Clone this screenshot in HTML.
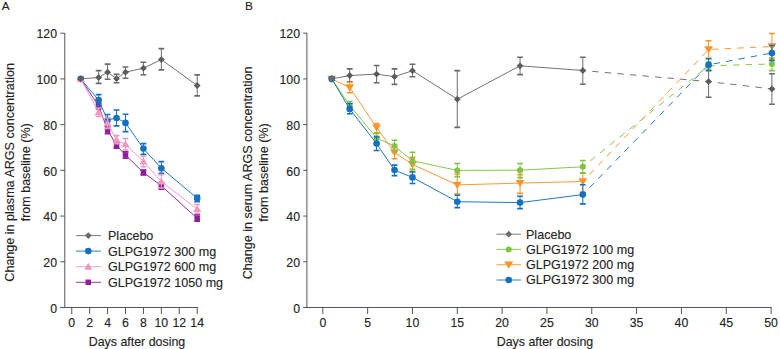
<!DOCTYPE html>
<html><head><meta charset="utf-8"><style>
html,body{margin:0;padding:0;background:#fff;width:780px;height:349px;overflow:hidden}
svg{display:block;font-family:"Liberation Sans", sans-serif}
text{stroke:#222;stroke-width:0.12px}
</style></head><body>
<svg width="780" height="349" viewBox="0 0 780 349">
<rect width="780" height="349" fill="#fff"/>
<text x="1.8" y="9.6" font-size="11.8" fill="#222222">A</text>
<text x="245" y="9.6" font-size="11.8" fill="#222222">B</text>
<path d="M64.8 33V307.8M60.3 307.5H197.8" stroke="#555555" stroke-width="1" fill="none"/>
<path d="M60.3 307.50H64.8" stroke="#555555" stroke-width="1"/>
<text x="57" y="312.70" font-size="12.3" text-anchor="end" fill="#222222">0</text>
<path d="M60.3 261.78H64.8" stroke="#555555" stroke-width="1"/>
<text x="57" y="266.98" font-size="12.3" text-anchor="end" fill="#222222">20</text>
<path d="M60.3 216.07H64.8" stroke="#555555" stroke-width="1"/>
<text x="57" y="221.27" font-size="12.3" text-anchor="end" fill="#222222">40</text>
<path d="M60.3 170.35H64.8" stroke="#555555" stroke-width="1"/>
<text x="57" y="175.55" font-size="12.3" text-anchor="end" fill="#222222">60</text>
<path d="M60.3 124.64H64.8" stroke="#555555" stroke-width="1"/>
<text x="57" y="129.84" font-size="12.3" text-anchor="end" fill="#222222">80</text>
<path d="M60.3 78.92H64.8" stroke="#555555" stroke-width="1"/>
<text x="57" y="84.12" font-size="12.3" text-anchor="end" fill="#222222">100</text>
<path d="M60.3 33.20H64.8" stroke="#555555" stroke-width="1"/>
<text x="57" y="38.40" font-size="12.3" text-anchor="end" fill="#222222">120</text>
<path d="M71.75 307.5V314" stroke="#555555" stroke-width="1"/>
<text x="71.75" y="327.2" font-size="12.3" text-anchor="middle" fill="#222222">0</text>
<path d="M89.67 307.5V314" stroke="#555555" stroke-width="1"/>
<text x="89.67" y="327.2" font-size="12.3" text-anchor="middle" fill="#222222">2</text>
<path d="M107.59 307.5V314" stroke="#555555" stroke-width="1"/>
<text x="107.59" y="327.2" font-size="12.3" text-anchor="middle" fill="#222222">4</text>
<path d="M125.51 307.5V314" stroke="#555555" stroke-width="1"/>
<text x="125.51" y="327.2" font-size="12.3" text-anchor="middle" fill="#222222">6</text>
<path d="M143.43 307.5V314" stroke="#555555" stroke-width="1"/>
<text x="143.43" y="327.2" font-size="12.3" text-anchor="middle" fill="#222222">8</text>
<path d="M161.35 307.5V314" stroke="#555555" stroke-width="1"/>
<text x="161.35" y="327.2" font-size="12.3" text-anchor="middle" fill="#222222">10</text>
<path d="M179.27 307.5V314" stroke="#555555" stroke-width="1"/>
<text x="179.27" y="327.2" font-size="12.3" text-anchor="middle" fill="#222222">12</text>
<path d="M197.19 307.5V314" stroke="#555555" stroke-width="1"/>
<text x="197.19" y="327.2" font-size="12.3" text-anchor="middle" fill="#222222">14</text>
<text x="137" y="346" font-size="12.4" text-anchor="middle" fill="#222222">Days after dosing</text>
<text transform="translate(14.4 172.4) rotate(-90)" font-size="12.57" text-anchor="middle" fill="#222222">Change in plasma ARGS concentration</text>
<text transform="translate(29.7 172.3) rotate(-90)" font-size="12.5" text-anchor="middle" fill="#222222">from baseline (%)</text>
<path d="M306.9 32.8V307.8M303.2 307.5H771.6" stroke="#555555" stroke-width="1" fill="none"/>
<path d="M303.2 307.50H306.9" stroke="#555555" stroke-width="1"/>
<text x="300" y="312.70" font-size="12.3" text-anchor="end" fill="#222222">0</text>
<path d="M303.2 261.78H306.9" stroke="#555555" stroke-width="1"/>
<text x="300" y="266.98" font-size="12.3" text-anchor="end" fill="#222222">20</text>
<path d="M303.2 216.07H306.9" stroke="#555555" stroke-width="1"/>
<text x="300" y="221.27" font-size="12.3" text-anchor="end" fill="#222222">40</text>
<path d="M303.2 170.35H306.9" stroke="#555555" stroke-width="1"/>
<text x="300" y="175.55" font-size="12.3" text-anchor="end" fill="#222222">60</text>
<path d="M303.2 124.64H306.9" stroke="#555555" stroke-width="1"/>
<text x="300" y="129.84" font-size="12.3" text-anchor="end" fill="#222222">80</text>
<path d="M303.2 78.92H306.9" stroke="#555555" stroke-width="1"/>
<text x="300" y="84.12" font-size="12.3" text-anchor="end" fill="#222222">100</text>
<path d="M303.2 33.20H306.9" stroke="#555555" stroke-width="1"/>
<text x="300" y="38.40" font-size="12.3" text-anchor="end" fill="#222222">120</text>
<path d="M322.80 307.5V314" stroke="#555555" stroke-width="1"/>
<text x="322.80" y="327.2" font-size="12.3" text-anchor="middle" fill="#222222">0</text>
<path d="M367.63 307.5V314" stroke="#555555" stroke-width="1"/>
<text x="367.63" y="327.2" font-size="12.3" text-anchor="middle" fill="#222222">5</text>
<path d="M412.46 307.5V314" stroke="#555555" stroke-width="1"/>
<text x="412.46" y="327.2" font-size="12.3" text-anchor="middle" fill="#222222">10</text>
<path d="M457.29 307.5V314" stroke="#555555" stroke-width="1"/>
<text x="457.29" y="327.2" font-size="12.3" text-anchor="middle" fill="#222222">15</text>
<path d="M502.12 307.5V314" stroke="#555555" stroke-width="1"/>
<text x="502.12" y="327.2" font-size="12.3" text-anchor="middle" fill="#222222">20</text>
<path d="M546.95 307.5V314" stroke="#555555" stroke-width="1"/>
<text x="546.95" y="327.2" font-size="12.3" text-anchor="middle" fill="#222222">25</text>
<path d="M591.78 307.5V314" stroke="#555555" stroke-width="1"/>
<text x="591.78" y="327.2" font-size="12.3" text-anchor="middle" fill="#222222">30</text>
<path d="M636.61 307.5V314" stroke="#555555" stroke-width="1"/>
<text x="636.61" y="327.2" font-size="12.3" text-anchor="middle" fill="#222222">35</text>
<path d="M681.44 307.5V314" stroke="#555555" stroke-width="1"/>
<text x="681.44" y="327.2" font-size="12.3" text-anchor="middle" fill="#222222">40</text>
<path d="M726.27 307.5V314" stroke="#555555" stroke-width="1"/>
<text x="726.27" y="327.2" font-size="12.3" text-anchor="middle" fill="#222222">45</text>
<path d="M771.10 307.5V314" stroke="#555555" stroke-width="1"/>
<text x="771.10" y="327.2" font-size="12.3" text-anchor="middle" fill="#222222">50</text>
<text x="545" y="346" font-size="12.4" text-anchor="middle" fill="#222222">Days after dosing</text>
<text transform="translate(252.2 172.95) rotate(-90)" font-size="12.55" text-anchor="middle" fill="#222222">Change in serum ARGS concentration</text>
<text transform="translate(267.6 172.5) rotate(-90)" font-size="12.55" text-anchor="middle" fill="#222222">from baseline (%)</text>
<path d="M80.71 78.90 L98.63 106.00 L107.59 130.10 L116.55 145.40 L125.51 155.00 L143.43 172.50 L161.35 185.80 L197.19 218.30" fill="none" stroke="#8e1f9b" stroke-width="0.95"/>
<path d="M98.63 103.00V109.00" stroke="#8e1f9b" stroke-width="1.0"/>
<path d="M95.73 103.00H101.53M95.73 109.00H101.53" stroke="#8e1f9b" stroke-width="1.6"/>
<path d="M107.59 126.40V133.80" stroke="#8e1f9b" stroke-width="1.0"/>
<path d="M104.69 126.40H110.49M104.69 133.80H110.49" stroke="#8e1f9b" stroke-width="1.6"/>
<path d="M116.55 142.50V148.30" stroke="#8e1f9b" stroke-width="1.0"/>
<path d="M113.65 142.50H119.45M113.65 148.30H119.45" stroke="#8e1f9b" stroke-width="1.6"/>
<path d="M125.51 151.80V158.30" stroke="#8e1f9b" stroke-width="1.0"/>
<path d="M122.61 151.80H128.41M122.61 158.30H128.41" stroke="#8e1f9b" stroke-width="1.6"/>
<path d="M143.43 170.00V175.00" stroke="#8e1f9b" stroke-width="1.0"/>
<path d="M140.53 170.00H146.33M140.53 175.00H146.33" stroke="#8e1f9b" stroke-width="1.6"/>
<path d="M161.35 182.60V189.20" stroke="#8e1f9b" stroke-width="1.0"/>
<path d="M158.45 182.60H164.25M158.45 189.20H164.25" stroke="#8e1f9b" stroke-width="1.6"/>
<path d="M197.19 214.60V221.10" stroke="#8e1f9b" stroke-width="1.0"/>
<path d="M194.29 214.60H200.09M194.29 221.10H200.09" stroke="#8e1f9b" stroke-width="1.6"/>
<rect x="77.96" y="76.15" width="5.50" height="5.50" fill="#8e1f9b"/>
<rect x="95.88" y="103.25" width="5.50" height="5.50" fill="#8e1f9b"/>
<rect x="104.84" y="127.35" width="5.50" height="5.50" fill="#8e1f9b"/>
<rect x="113.80" y="142.65" width="5.50" height="5.50" fill="#8e1f9b"/>
<rect x="122.76" y="152.25" width="5.50" height="5.50" fill="#8e1f9b"/>
<rect x="140.68" y="169.75" width="5.50" height="5.50" fill="#8e1f9b"/>
<rect x="158.60" y="183.05" width="5.50" height="5.50" fill="#8e1f9b"/>
<rect x="194.44" y="215.55" width="5.50" height="5.50" fill="#8e1f9b"/>
<path d="M80.71 78.90 L98.63 100.10 L107.59 120.00 L116.55 118.00 L125.51 122.90 L143.43 148.60 L161.35 168.20 L197.19 198.20" fill="none" stroke="#1570c0" stroke-width="0.95"/>
<path d="M98.63 94.60V105.60" stroke="#1570c0" stroke-width="1.0"/>
<path d="M95.73 94.60H101.53M95.73 105.60H101.53" stroke="#1570c0" stroke-width="1.6"/>
<path d="M107.59 114.50V125.50" stroke="#1570c0" stroke-width="1.0"/>
<path d="M104.69 114.50H110.49M104.69 125.50H110.49" stroke="#1570c0" stroke-width="1.6"/>
<path d="M116.55 110.00V125.90" stroke="#1570c0" stroke-width="1.0"/>
<path d="M113.65 110.00H119.45M113.65 125.90H119.45" stroke="#1570c0" stroke-width="1.6"/>
<path d="M125.51 114.30V131.60" stroke="#1570c0" stroke-width="1.0"/>
<path d="M122.61 114.30H128.41M122.61 131.60H128.41" stroke="#1570c0" stroke-width="1.6"/>
<path d="M143.43 143.60V154.40" stroke="#1570c0" stroke-width="1.0"/>
<path d="M140.53 143.60H146.33M140.53 154.40H146.33" stroke="#1570c0" stroke-width="1.6"/>
<path d="M161.35 161.60V173.30" stroke="#1570c0" stroke-width="1.0"/>
<path d="M158.45 161.60H164.25M158.45 173.30H164.25" stroke="#1570c0" stroke-width="1.6"/>
<path d="M197.19 195.30V201.60" stroke="#1570c0" stroke-width="1.0"/>
<path d="M194.29 195.30H200.09M194.29 201.60H200.09" stroke="#1570c0" stroke-width="1.6"/>
<circle cx="80.71" cy="78.90" r="3.30" fill="#1570c0"/>
<circle cx="98.63" cy="100.10" r="3.30" fill="#1570c0"/>
<circle cx="107.59" cy="120.00" r="3.30" fill="#1570c0"/>
<circle cx="116.55" cy="118.00" r="3.30" fill="#1570c0"/>
<circle cx="125.51" cy="122.90" r="3.30" fill="#1570c0"/>
<circle cx="143.43" cy="148.60" r="3.30" fill="#1570c0"/>
<circle cx="161.35" cy="168.20" r="3.30" fill="#1570c0"/>
<circle cx="197.19" cy="198.20" r="3.30" fill="#1570c0"/>
<path d="M80.71 78.90 L98.63 112.30 L107.59 123.20 L116.55 139.80 L125.51 144.30 L143.43 161.40 L161.35 181.40 L197.19 209.10" fill="none" stroke="#f396bf" stroke-width="0.95"/>
<path d="M98.63 108.00V116.50" stroke="#f396bf" stroke-width="1.0"/>
<path d="M95.73 108.00H101.53M95.73 116.50H101.53" stroke="#f396bf" stroke-width="1.6"/>
<path d="M107.59 118.00V128.40" stroke="#f396bf" stroke-width="1.0"/>
<path d="M104.69 118.00H110.49M104.69 128.40H110.49" stroke="#f396bf" stroke-width="1.6"/>
<path d="M116.55 135.60V143.60" stroke="#f396bf" stroke-width="1.0"/>
<path d="M113.65 135.60H119.45M113.65 143.60H119.45" stroke="#f396bf" stroke-width="1.6"/>
<path d="M125.51 138.50V150.00" stroke="#f396bf" stroke-width="1.0"/>
<path d="M122.61 138.50H128.41M122.61 150.00H128.41" stroke="#f396bf" stroke-width="1.6"/>
<path d="M143.43 156.00V166.80" stroke="#f396bf" stroke-width="1.0"/>
<path d="M140.53 156.00H146.33M140.53 166.80H146.33" stroke="#f396bf" stroke-width="1.6"/>
<path d="M161.35 174.60V188.00" stroke="#f396bf" stroke-width="1.0"/>
<path d="M158.45 174.60H164.25M158.45 188.00H164.25" stroke="#f396bf" stroke-width="1.6"/>
<path d="M197.19 204.50V213.50" stroke="#f396bf" stroke-width="1.0"/>
<path d="M194.29 204.50H200.09M194.29 213.50H200.09" stroke="#f396bf" stroke-width="1.6"/>
<path d="M80.71 74.90L84.71 81.90L76.71 81.90Z" fill="#f396bf"/>
<path d="M98.63 108.30L102.63 115.30L94.63 115.30Z" fill="#f396bf"/>
<path d="M107.59 119.20L111.59 126.20L103.59 126.20Z" fill="#f396bf"/>
<path d="M116.55 135.80L120.55 142.80L112.55 142.80Z" fill="#f396bf"/>
<path d="M125.51 140.30L129.51 147.30L121.51 147.30Z" fill="#f396bf"/>
<path d="M143.43 157.40L147.43 164.40L139.43 164.40Z" fill="#f396bf"/>
<path d="M161.35 177.40L165.35 184.40L157.35 184.40Z" fill="#f396bf"/>
<path d="M197.19 205.10L201.19 212.10L193.19 212.10Z" fill="#f396bf"/>
<path d="M80.71 78.90 L98.63 77.50 L107.59 72.20 L116.55 78.70 L125.51 72.20 L143.43 68.20 L161.35 59.60 L197.19 85.50" fill="none" stroke="#6b6b6b" stroke-width="0.95"/>
<path d="M98.63 70.60V83.40" stroke="#6b6b6b" stroke-width="1.0"/>
<path d="M95.73 70.60H101.53M95.73 83.40H101.53" stroke="#6b6b6b" stroke-width="1.6"/>
<path d="M107.59 64.10V79.20" stroke="#6b6b6b" stroke-width="1.0"/>
<path d="M104.69 64.10H110.49M104.69 79.20H110.49" stroke="#6b6b6b" stroke-width="1.6"/>
<path d="M116.55 74.40V82.70" stroke="#6b6b6b" stroke-width="1.0"/>
<path d="M113.65 74.40H119.45M113.65 82.70H119.45" stroke="#6b6b6b" stroke-width="1.6"/>
<path d="M125.51 67.00V78.20" stroke="#6b6b6b" stroke-width="1.0"/>
<path d="M122.61 67.00H128.41M122.61 78.20H128.41" stroke="#6b6b6b" stroke-width="1.6"/>
<path d="M143.43 62.20V74.70" stroke="#6b6b6b" stroke-width="1.0"/>
<path d="M140.53 62.20H146.33M140.53 74.70H146.33" stroke="#6b6b6b" stroke-width="1.6"/>
<path d="M161.35 48.60V69.90" stroke="#6b6b6b" stroke-width="1.0"/>
<path d="M158.45 48.60H164.25M158.45 69.90H164.25" stroke="#6b6b6b" stroke-width="1.6"/>
<path d="M197.19 74.90V95.90" stroke="#6b6b6b" stroke-width="1.0"/>
<path d="M194.29 74.90H200.09M194.29 95.90H200.09" stroke="#6b6b6b" stroke-width="1.6"/>
<path d="M80.71 75.50L84.11 78.90L80.71 82.30L77.31 78.90Z" fill="#5c5c5c"/>
<path d="M98.63 74.10L102.03 77.50L98.63 80.90L95.23 77.50Z" fill="#5c5c5c"/>
<path d="M107.59 68.80L110.99 72.20L107.59 75.60L104.19 72.20Z" fill="#5c5c5c"/>
<path d="M116.55 75.30L119.95 78.70L116.55 82.10L113.15 78.70Z" fill="#5c5c5c"/>
<path d="M125.51 68.80L128.91 72.20L125.51 75.60L122.11 72.20Z" fill="#5c5c5c"/>
<path d="M143.43 64.80L146.83 68.20L143.43 71.60L140.03 68.20Z" fill="#5c5c5c"/>
<path d="M161.35 56.20L164.75 59.60L161.35 63.00L157.95 59.60Z" fill="#5c5c5c"/>
<path d="M197.19 82.10L200.59 85.50L197.19 88.90L193.79 85.50Z" fill="#5c5c5c"/>
<path d="M331.77 78.90 L349.70 75.50 L376.60 74.10 L394.53 76.70 L412.46 70.70 L457.29 99.20 L520.05 65.80 L582.81 70.50" fill="none" stroke="#6b6b6b" stroke-width="0.95"/>
<path d="M582.81 70.50 L708.60 81.60 L771.90 88.90" fill="none" stroke="#6b6b6b" stroke-width="0.95" stroke-dasharray="6.4 6.2" stroke-dashoffset="3.1"/>
<path d="M349.70 68.90V81.80" stroke="#6b6b6b" stroke-width="1.0"/>
<path d="M346.80 68.90H352.60M346.80 81.80H352.60" stroke="#6b6b6b" stroke-width="1.6"/>
<path d="M376.60 65.50V82.70" stroke="#6b6b6b" stroke-width="1.0"/>
<path d="M373.70 65.50H379.50M373.70 82.70H379.50" stroke="#6b6b6b" stroke-width="1.6"/>
<path d="M394.53 68.90V84.40" stroke="#6b6b6b" stroke-width="1.0"/>
<path d="M391.63 68.90H397.43M391.63 84.40H397.43" stroke="#6b6b6b" stroke-width="1.6"/>
<path d="M412.46 64.30V76.70" stroke="#6b6b6b" stroke-width="1.0"/>
<path d="M409.56 64.30H415.36M409.56 76.70H415.36" stroke="#6b6b6b" stroke-width="1.6"/>
<path d="M457.29 70.60V127.40" stroke="#6b6b6b" stroke-width="1.0"/>
<path d="M454.39 70.60H460.19M454.39 127.40H460.19" stroke="#6b6b6b" stroke-width="1.6"/>
<path d="M520.05 57.20V74.60" stroke="#6b6b6b" stroke-width="1.0"/>
<path d="M517.15 57.20H522.95M517.15 74.60H522.95" stroke="#6b6b6b" stroke-width="1.6"/>
<path d="M582.81 57.20V84.20" stroke="#6b6b6b" stroke-width="1.0"/>
<path d="M579.91 57.20H585.71M579.91 84.20H585.71" stroke="#6b6b6b" stroke-width="1.6"/>
<path d="M708.60 66.00V97.20" stroke="#6b6b6b" stroke-width="1.0"/>
<path d="M705.70 66.00H711.50M705.70 97.20H711.50" stroke="#6b6b6b" stroke-width="1.6"/>
<path d="M771.90 73.80V104.30" stroke="#6b6b6b" stroke-width="1.0"/>
<path d="M769.00 73.80H774.80M769.00 104.30H774.80" stroke="#6b6b6b" stroke-width="1.6"/>
<path d="M331.77 75.50L335.17 78.90L331.77 82.30L328.37 78.90Z" fill="#5c5c5c"/>
<path d="M349.70 72.10L353.10 75.50L349.70 78.90L346.30 75.50Z" fill="#5c5c5c"/>
<path d="M376.60 70.70L380.00 74.10L376.60 77.50L373.20 74.10Z" fill="#5c5c5c"/>
<path d="M394.53 73.30L397.93 76.70L394.53 80.10L391.13 76.70Z" fill="#5c5c5c"/>
<path d="M412.46 67.30L415.86 70.70L412.46 74.10L409.06 70.70Z" fill="#5c5c5c"/>
<path d="M457.29 95.80L460.69 99.20L457.29 102.60L453.89 99.20Z" fill="#5c5c5c"/>
<path d="M520.05 62.40L523.45 65.80L520.05 69.20L516.65 65.80Z" fill="#5c5c5c"/>
<path d="M582.81 67.10L586.21 70.50L582.81 73.90L579.41 70.50Z" fill="#5c5c5c"/>
<path d="M708.60 78.20L712.00 81.60L708.60 85.00L705.20 81.60Z" fill="#5c5c5c"/>
<path d="M771.90 85.50L775.30 88.90L771.90 92.30L768.50 88.90Z" fill="#5c5c5c"/>
<path d="M331.77 78.90 L349.70 87.50 L376.60 127.60 L394.53 152.50 L412.46 164.40 L457.29 184.90 L520.05 183.10 L582.81 181.50" fill="none" stroke="#f7952a" stroke-width="0.95"/>
<path d="M582.81 181.50 L708.60 49.50 L771.90 46.50" fill="none" stroke="#f7952a" stroke-width="0.95" stroke-dasharray="6.4 6.2" stroke-dashoffset="3.1"/>
<path d="M349.70 82.30V92.70" stroke="#f7952a" stroke-width="1.0"/>
<path d="M346.80 82.30H352.60M346.80 92.70H352.60" stroke="#f7952a" stroke-width="1.6"/>
<path d="M376.60 123.60V132.80" stroke="#f7952a" stroke-width="1.0"/>
<path d="M373.70 123.60H379.50M373.70 132.80H379.50" stroke="#f7952a" stroke-width="1.6"/>
<path d="M394.53 146.30V158.80" stroke="#f7952a" stroke-width="1.0"/>
<path d="M391.63 146.30H397.43M391.63 158.80H397.43" stroke="#f7952a" stroke-width="1.6"/>
<path d="M412.46 157.40V171.40" stroke="#f7952a" stroke-width="1.0"/>
<path d="M409.56 157.40H415.36M409.56 171.40H415.36" stroke="#f7952a" stroke-width="1.6"/>
<path d="M457.29 174.00V194.00" stroke="#f7952a" stroke-width="1.0"/>
<path d="M454.39 174.00H460.19M454.39 194.00H460.19" stroke="#f7952a" stroke-width="1.6"/>
<path d="M520.05 174.60V193.40" stroke="#f7952a" stroke-width="1.0"/>
<path d="M517.15 174.60H522.95M517.15 193.40H522.95" stroke="#f7952a" stroke-width="1.6"/>
<path d="M582.81 172.80V192.30" stroke="#f7952a" stroke-width="1.0"/>
<path d="M579.91 172.80H585.71M579.91 192.30H585.71" stroke="#f7952a" stroke-width="1.6"/>
<path d="M708.60 40.80V58.20" stroke="#f7952a" stroke-width="1.0"/>
<path d="M705.70 40.80H711.50M705.70 58.20H711.50" stroke="#f7952a" stroke-width="1.6"/>
<path d="M771.90 33.50V59.50" stroke="#f7952a" stroke-width="1.0"/>
<path d="M769.00 33.50H774.80M769.00 59.50H774.80" stroke="#f7952a" stroke-width="1.6"/>
<path d="M331.77 82.90L336.25 75.70L327.29 75.70Z" fill="#f7952a"/>
<path d="M349.70 91.50L354.18 84.30L345.22 84.30Z" fill="#f7952a"/>
<path d="M376.60 131.60L381.08 124.40L372.12 124.40Z" fill="#f7952a"/>
<path d="M394.53 156.50L399.01 149.30L390.05 149.30Z" fill="#f7952a"/>
<path d="M412.46 168.40L416.94 161.20L407.98 161.20Z" fill="#f7952a"/>
<path d="M457.29 188.90L461.77 181.70L452.81 181.70Z" fill="#f7952a"/>
<path d="M520.05 187.10L524.53 179.90L515.57 179.90Z" fill="#f7952a"/>
<path d="M582.81 185.50L587.29 178.30L578.33 178.30Z" fill="#f7952a"/>
<path d="M708.60 53.50L713.08 46.30L704.12 46.30Z" fill="#f7952a"/>
<path d="M771.90 50.50L776.38 43.30L767.42 43.30Z" fill="#f7952a"/>
<path d="M331.77 78.90 L349.70 105.50 L376.60 138.00 L394.53 146.00 L412.46 160.80 L457.29 170.40 L520.05 170.20 L582.81 166.80" fill="none" stroke="#80c244" stroke-width="0.95"/>
<path d="M582.81 166.80 L708.60 65.80 L771.90 64.00" fill="none" stroke="#80c244" stroke-width="0.95" stroke-dasharray="6.4 6.2" stroke-dashoffset="3.1"/>
<path d="M349.70 101.50V109.50" stroke="#80c244" stroke-width="1.0"/>
<path d="M346.80 101.50H352.60M346.80 109.50H352.60" stroke="#80c244" stroke-width="1.6"/>
<path d="M376.60 133.50V142.50" stroke="#80c244" stroke-width="1.0"/>
<path d="M373.70 133.50H379.50M373.70 142.50H379.50" stroke="#80c244" stroke-width="1.6"/>
<path d="M394.53 140.30V151.70" stroke="#80c244" stroke-width="1.0"/>
<path d="M391.63 140.30H397.43M391.63 151.70H397.43" stroke="#80c244" stroke-width="1.6"/>
<path d="M412.46 152.20V169.40" stroke="#80c244" stroke-width="1.0"/>
<path d="M409.56 152.20H415.36M409.56 169.40H415.36" stroke="#80c244" stroke-width="1.6"/>
<path d="M457.29 163.50V176.60" stroke="#80c244" stroke-width="1.0"/>
<path d="M454.39 163.50H460.19M454.39 176.60H460.19" stroke="#80c244" stroke-width="1.6"/>
<path d="M520.05 163.50V177.60" stroke="#80c244" stroke-width="1.0"/>
<path d="M517.15 163.50H522.95M517.15 177.60H522.95" stroke="#80c244" stroke-width="1.6"/>
<path d="M582.81 160.50V173.10" stroke="#80c244" stroke-width="1.0"/>
<path d="M579.91 160.50H585.71M579.91 173.10H585.71" stroke="#80c244" stroke-width="1.6"/>
<path d="M708.60 62.00V69.50" stroke="#80c244" stroke-width="1.0"/>
<path d="M705.70 62.00H711.50M705.70 69.50H711.50" stroke="#80c244" stroke-width="1.6"/>
<path d="M771.90 58.00V70.60" stroke="#80c244" stroke-width="1.0"/>
<path d="M769.00 58.00H774.80M769.00 70.60H774.80" stroke="#80c244" stroke-width="1.6"/>
<circle cx="331.77" cy="78.90" r="3.00" fill="#80c244"/>
<circle cx="349.70" cy="105.50" r="3.00" fill="#80c244"/>
<circle cx="376.60" cy="138.00" r="3.00" fill="#80c244"/>
<circle cx="394.53" cy="146.00" r="3.00" fill="#80c244"/>
<circle cx="412.46" cy="160.80" r="3.00" fill="#80c244"/>
<circle cx="457.29" cy="170.40" r="3.00" fill="#80c244"/>
<circle cx="520.05" cy="170.20" r="3.00" fill="#80c244"/>
<circle cx="582.81" cy="166.80" r="3.00" fill="#80c244"/>
<circle cx="708.60" cy="65.80" r="3.00" fill="#80c244"/>
<circle cx="771.90" cy="64.00" r="3.00" fill="#80c244"/>
<path d="M331.77 78.90 L349.70 108.90 L376.60 143.60 L394.53 170.10 L412.46 177.40 L457.29 201.70 L520.05 202.60 L582.81 194.60" fill="none" stroke="#1570c0" stroke-width="0.95"/>
<path d="M582.81 194.60 L708.60 64.80 L771.90 53.00" fill="none" stroke="#1570c0" stroke-width="0.95" stroke-dasharray="6.4 6.2" stroke-dashoffset="3.1"/>
<path d="M349.70 103.50V113.80" stroke="#1570c0" stroke-width="1.0"/>
<path d="M346.80 103.50H352.60M346.80 113.80H352.60" stroke="#1570c0" stroke-width="1.6"/>
<path d="M376.60 137.00V150.50" stroke="#1570c0" stroke-width="1.0"/>
<path d="M373.70 137.00H379.50M373.70 150.50H379.50" stroke="#1570c0" stroke-width="1.6"/>
<path d="M394.53 165.10V175.60" stroke="#1570c0" stroke-width="1.0"/>
<path d="M391.63 165.10H397.43M391.63 175.60H397.43" stroke="#1570c0" stroke-width="1.6"/>
<path d="M412.46 172.00V183.50" stroke="#1570c0" stroke-width="1.0"/>
<path d="M409.56 172.00H415.36M409.56 183.50H415.36" stroke="#1570c0" stroke-width="1.6"/>
<path d="M457.29 195.20V207.60" stroke="#1570c0" stroke-width="1.0"/>
<path d="M454.39 195.20H460.19M454.39 207.60H460.19" stroke="#1570c0" stroke-width="1.6"/>
<path d="M520.05 196.20V208.60" stroke="#1570c0" stroke-width="1.0"/>
<path d="M517.15 196.20H522.95M517.15 208.60H522.95" stroke="#1570c0" stroke-width="1.6"/>
<path d="M582.81 184.80V203.90" stroke="#1570c0" stroke-width="1.0"/>
<path d="M579.91 184.80H585.71M579.91 203.90H585.71" stroke="#1570c0" stroke-width="1.6"/>
<path d="M708.60 58.70V70.80" stroke="#1570c0" stroke-width="1.0"/>
<path d="M705.70 58.70H711.50M705.70 70.80H711.50" stroke="#1570c0" stroke-width="1.6"/>
<path d="M771.90 45.50V60.50" stroke="#1570c0" stroke-width="1.0"/>
<path d="M769.00 45.50H774.80M769.00 60.50H774.80" stroke="#1570c0" stroke-width="1.6"/>
<circle cx="331.77" cy="78.90" r="3.30" fill="#1570c0"/>
<circle cx="349.70" cy="108.90" r="3.30" fill="#1570c0"/>
<circle cx="376.60" cy="143.60" r="3.30" fill="#1570c0"/>
<circle cx="394.53" cy="170.10" r="3.30" fill="#1570c0"/>
<circle cx="412.46" cy="177.40" r="3.30" fill="#1570c0"/>
<circle cx="457.29" cy="201.70" r="3.30" fill="#1570c0"/>
<circle cx="520.05" cy="202.60" r="3.30" fill="#1570c0"/>
<circle cx="582.81" cy="194.60" r="3.30" fill="#1570c0"/>
<circle cx="708.60" cy="64.80" r="3.30" fill="#1570c0"/>
<circle cx="771.90" cy="53.00" r="3.30" fill="#1570c0"/>
<path d="M331.77 75.50L335.17 78.90L331.77 82.30L328.37 78.90Z" fill="#6b6b6b"/>
<path d="M76 235.6H101" stroke="#6b6b6b" stroke-width="0.9"/>
<path d="M88.30 232.20L91.70 235.60L88.30 239.00L84.90 235.60Z" fill="#6b6b6b"/>
<text x="108" y="240.00" font-size="12.55" fill="#222222">Placebo</text>
<path d="M76 251.1H101" stroke="#1570c0" stroke-width="0.9"/>
<circle cx="88.30" cy="251.10" r="3.30" fill="#1570c0"/>
<text x="108" y="255.50" font-size="12.55" fill="#222222">GLPG1972 300 mg</text>
<path d="M76 266.7H101" stroke="#f396bf" stroke-width="0.9"/>
<path d="M88.30 262.70L92.30 269.70L84.30 269.70Z" fill="#f396bf"/>
<text x="108" y="271.10" font-size="12.55" fill="#222222">GLPG1972 600 mg</text>
<path d="M76 282.3H101" stroke="#8e1f9b" stroke-width="0.9"/>
<rect x="85.55" y="279.55" width="5.50" height="5.50" fill="#8e1f9b"/>
<text x="108" y="286.70" font-size="12.55" fill="#222222">GLPG1972 1050 mg</text>
<path d="M496.5 234.2H521" stroke="#6b6b6b" stroke-width="0.9"/>
<path d="M508.70 230.80L512.10 234.20L508.70 237.60L505.30 234.20Z" fill="#6b6b6b"/>
<text x="526" y="238.60" font-size="12.55" fill="#222222">Placebo</text>
<path d="M496.5 249.4H521" stroke="#80c244" stroke-width="0.9"/>
<circle cx="508.70" cy="249.40" r="3.00" fill="#80c244"/>
<text x="526" y="253.80" font-size="12.55" fill="#222222">GLPG1972 100 mg</text>
<path d="M496.5 264.7H521" stroke="#f7952a" stroke-width="0.9"/>
<path d="M508.70 268.70L513.18 261.50L504.22 261.50Z" fill="#f7952a"/>
<text x="526" y="269.10" font-size="12.55" fill="#222222">GLPG1972 200 mg</text>
<path d="M496.5 280H521" stroke="#1570c0" stroke-width="0.9"/>
<circle cx="508.70" cy="280.00" r="3.30" fill="#1570c0"/>
<text x="526" y="284.40" font-size="12.55" fill="#222222">GLPG1972 300 mg</text>
</svg></body></html>
